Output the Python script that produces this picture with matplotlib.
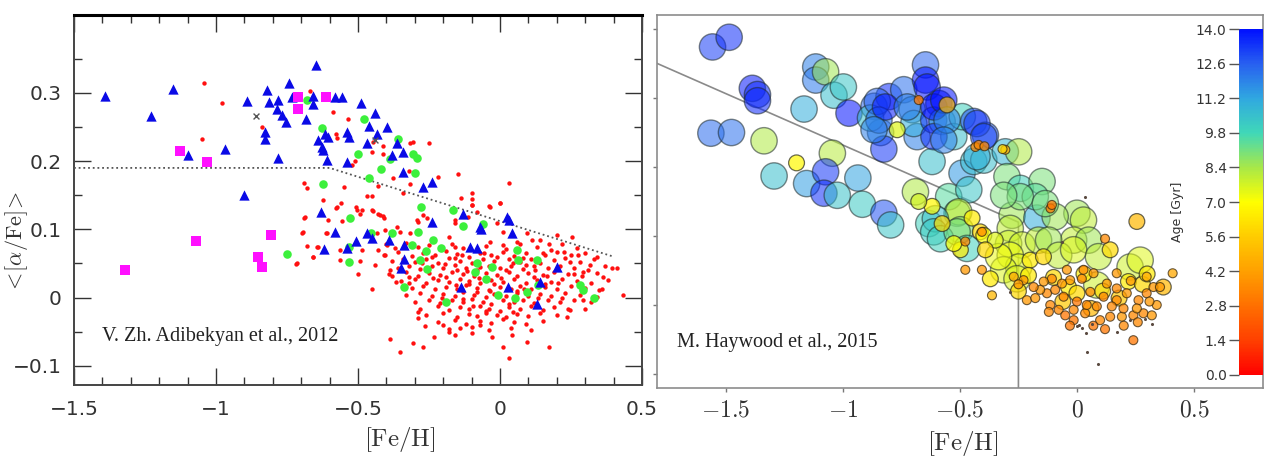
import numpy as np
import matplotlib.pyplot as plt
from matplotlib.colors import LinearSegmentedColormap
from matplotlib.ticker import FixedLocator, FixedFormatter

plt.rcParams['mathtext.fontset'] = 'cm'

# ---------------- left panel: Adibekyan et al. 2012 ----------------
# [Fe/H], <[alpha/Fe]>
red_pts = np.array([
    [-1.041, 0.314], [-0.980, 0.285], [-1.050, 0.232], [-0.839, 0.250], [-0.669, 0.303],
    [-0.690, 0.168], [-0.678, 0.160], [-0.622, 0.143], [-0.690, 0.116], [-0.698, 0.095],
    [-0.681, 0.075], [-0.657, 0.060], [-0.718, 0.049], [-0.640, 0.074], [-0.613, 0.094],
    [-0.589, 0.272], [-0.536, 0.261], [-0.577, 0.240], [-0.573, 0.234], [-0.448, 0.228],
    [-0.411, 0.222], [-0.452, 0.213], [-0.317, 0.226], [-0.305, 0.228], [-0.249, 0.227],
    [-0.411, 0.210], [-0.511, 0.200], [-0.522, 0.194], [-0.378, 0.175], [-0.320, 0.186],
    [-0.317, 0.166], [-0.219, 0.176], [-0.149, 0.181], [0.032, 0.168], [-0.549, 0.162],
    [-0.428, 0.164], [-0.469, 0.149], [-0.451, 0.149], [-0.340, 0.153], [-0.561, 0.139],
    [-0.579, 0.132], [-0.508, 0.133], [-0.487, 0.128], [-0.448, 0.127], [-0.428, 0.123],
    [-0.411, 0.119], [-0.138, 0.146], [-0.100, 0.153], [-0.100, 0.144], [-0.100, 0.135],
    [0.000, 0.139], [-0.037, 0.134], [-0.082, 0.126], [-0.111, 0.118], [-0.158, 0.113],
    [-0.288, 0.111], [-0.258, 0.116], [-0.557, 0.112], [-0.686, 0.118], [-0.692, 0.096],
    [-0.716, 0.050], [-0.657, 0.060], [-0.645, 0.074], [-0.610, 0.094], [-0.604, 0.114],
    [-0.575, 0.133], [-0.563, 0.055], [-0.563, 0.070], [-0.504, 0.128], [-0.493, 0.123],
    [-0.451, 0.128], [-0.422, 0.121], [-0.410, 0.116], [-0.493, 0.053], [-0.487, 0.070],
    [-0.499, 0.035], [-0.451, 0.013], [-0.440, 0.048], [-0.428, 0.070], [-0.432, 0.094],
    [-0.404, 0.099], [-0.399, 0.077], [-0.404, 0.062], [-0.387, 0.040], [-0.381, 0.031],
    [-0.364, 0.104], [-0.366, 0.023], [-0.352, 0.096], [-0.317, 0.094], [-0.322, 0.021],
    [-0.387, -0.060], [-0.352, -0.079], [-0.305, -0.067], [-0.287, -0.021], [-0.287, -0.030],
    [-0.264, -0.042], [-0.270, -0.072], [-0.234, -0.057], [-0.199, -0.040], [-0.181, -0.050],
    [-0.158, -0.055], [-0.141, -0.045], [-0.099, -0.052], [-0.070, -0.040], [-0.029, -0.057],
    [0.030, -0.089], [0.012, -0.072], [0.042, -0.055], [0.094, -0.065], [0.171, -0.072],
    [0.235, -0.028], [0.247, -0.018], [0.300, -0.016], [0.294, -0.004], [0.432, 0.004],
    [0.394, 0.043], [0.411, 0.043], [0.364, 0.030], [0.358, 0.013], [0.341, 0.060],
    [0.253, 0.089], [0.200, 0.092], [0.141, 0.084], [0.112, 0.084], [0.153, 0.065],
    [0.171, 0.079], [0.224, 0.067], [0.273, 0.062], [0.318, 0.048], [0.294, 0.038],
    [0.259, 0.035], [0.012, 0.096], [-0.011, 0.109], [-0.035, 0.133], [-0.099, 0.135],
    [0.000, 0.138], [0.094, 0.094], [0.059, 0.082], [0.012, 0.077], [-0.035, 0.082],
    [-0.158, 0.109], [-0.181, 0.089], [-0.158, 0.074], [-0.293, 0.114], [-0.270, 0.121],
    # dense clump
    [-0.40, 0.078], [-0.37, 0.072], [-0.33, 0.080], [-0.29, 0.074], [-0.25, 0.077],
    [-0.21, 0.071], [-0.17, 0.079], [-0.13, 0.073], [-0.05, 0.076], [0.02, 0.071],
    [0.07, 0.079], [0.13, 0.074], [0.18, 0.070], [0.22, 0.078], [0.27, 0.073],
    [-0.41, 0.063], [-0.36, 0.067], [-0.31, 0.061], [-0.27, 0.066], [-0.23, 0.062],
    [-0.19, 0.068], [-0.15, 0.064], [-0.11, 0.060], [-0.07, 0.066], [-0.03, 0.062],
    [0.01, 0.067], [0.05, 0.061], [0.09, 0.065], [0.16, 0.062], [0.20, 0.067],
    [0.25, 0.063], [0.30, 0.066],
    [-0.38, 0.053], [-0.34, 0.057], [-0.30, 0.052], [-0.26, 0.056], [-0.22, 0.051],
    [-0.18, 0.058], [-0.14, 0.054], [-0.10, 0.050], [-0.06, 0.056], [-0.02, 0.053],
    [0.03, 0.057], [0.07, 0.052], [0.11, 0.056], [0.14, 0.051], [0.19, 0.055],
    [0.23, 0.058], [0.28, 0.052], [0.33, 0.056],
    [-0.36, 0.044], [-0.32, 0.047], [-0.28, 0.042], [-0.24, 0.046], [-0.20, 0.043],
    [-0.16, 0.048], [-0.12, 0.044], [-0.08, 0.041], [-0.04, 0.046], [0.00, 0.043],
    [0.04, 0.047], [0.08, 0.042], [0.12, 0.046], [0.17, 0.043], [0.21, 0.047],
    [0.26, 0.044], [0.31, 0.041], [0.37, 0.046],
    [-0.39, 0.034], [-0.33, 0.037], [-0.29, 0.032], [-0.25, 0.036], [-0.21, 0.033],
    [-0.17, 0.038], [-0.13, 0.034], [-0.09, 0.031], [-0.05, 0.036], [-0.01, 0.033],
    [0.03, 0.037], [0.06, 0.032], [0.10, 0.036], [0.15, 0.033], [0.19, 0.038],
    [0.24, 0.034], [0.29, 0.031], [0.34, 0.036],
    [-0.35, 0.024], [-0.30, 0.027], [-0.26, 0.022], [-0.22, 0.026], [-0.18, 0.023],
    [-0.14, 0.028], [-0.11, 0.024], [-0.07, 0.021], [-0.03, 0.026], [0.01, 0.023],
    [0.05, 0.027], [0.09, 0.022], [0.13, 0.026], [0.18, 0.023], [0.22, 0.027],
    [0.27, 0.024], [0.32, 0.021], [0.38, 0.026],
    [-0.31, 0.014], [-0.27, 0.017], [-0.23, 0.012], [-0.19, 0.016], [-0.15, 0.013],
    [-0.12, 0.018], [-0.08, 0.014], [-0.04, 0.011], [0.00, 0.016], [0.04, 0.013],
    [0.07, 0.017], [0.11, 0.012], [0.16, 0.016], [0.20, 0.013], [0.25, 0.017],
    [0.30, 0.014], [0.35, 0.011],
    [-0.33, 0.004], [-0.28, 0.007], [-0.24, 0.002], [-0.20, 0.006], [-0.16, 0.003],
    [-0.13, 0.008], [-0.09, 0.004], [-0.05, 0.001], [-0.02, 0.006], [0.02, 0.003],
    [0.06, 0.007], [0.10, 0.002], [0.14, 0.006], [0.18, 0.003], [0.23, 0.007],
    [0.28, 0.004], [0.34, 0.001],
    [-0.30, -0.006], [-0.25, -0.003], [-0.21, -0.008], [-0.17, -0.004], [-0.13, -0.007],
    [-0.10, -0.002], [-0.06, -0.006], [-0.03, -0.009], [0.01, -0.004], [0.05, -0.007],
    [0.08, -0.003], [0.12, -0.008], [0.17, -0.004], [0.21, -0.007], [0.26, -0.003],
    [0.32, -0.006],
    [-0.28, -0.016], [-0.22, -0.013], [-0.18, -0.018], [-0.14, -0.014], [-0.11, -0.017],
    [-0.07, -0.012], [-0.04, -0.016], [0.00, -0.019], [0.03, -0.014], [0.07, -0.017],
    [0.11, -0.013], [0.15, -0.018], [0.19, -0.014], [0.24, -0.017],
    [-0.26, -0.026], [-0.20, -0.023], [-0.15, -0.028], [-0.11, -0.024], [-0.08, -0.027],
    [-0.05, -0.022], [-0.01, -0.026], [0.02, -0.029], [0.06, -0.024], [0.10, -0.027],
    [0.14, -0.023], [0.20, -0.026],
    [-0.22, -0.036], [-0.16, -0.033], [-0.12, -0.038], [-0.07, -0.034], [-0.03, -0.037],
    [0.01, -0.032], [0.05, -0.036], [0.09, -0.039], [0.15, -0.034],
    [-0.18, -0.046], [-0.10, -0.043], [-0.04, -0.048], [0.04, -0.044], [0.11, -0.047],
    [-0.19, 0.030], [-0.15, 0.040], [-0.11, 0.020], [-0.07, 0.045], [-0.02, 0.020],
    [0.02, 0.040], [0.06, 0.010], [0.09, 0.048], [-0.13, -0.002], [-0.08, 0.008],
    [0.03, -0.010], [0.12, 0.030], [-0.24, 0.060], [-0.01, 0.060], [0.16, 0.020],
    [-0.16, 0.058], [0.08, 0.058], [-0.32, 0.030], [0.22, 0.000], [-0.05, -0.020],
    [-0.235, 0.029], [-0.195, 0.049], [-0.155, 0.019], [-0.115, 0.039], [-0.075, 0.029],
    [-0.035, 0.009], [0.005, 0.029], [0.045, 0.051], [0.085, 0.012], [0.125, 0.040],
    [0.165, 0.031], [0.205, 0.021], [-0.275, 0.050], [-0.135, 0.062], [0.045, -0.021],
    [-0.095, -0.012], [0.135, -0.001], [-0.205, -0.001], [0.245, 0.052], [-0.055, 0.066],
])

green_pts = np.array([
    [-0.681, 0.290], [-0.626, 0.248], [-0.624, 0.167], [-0.751, 0.064], [-0.479, 0.261],
    [-0.360, 0.233], [-0.499, 0.210], [-0.305, 0.211], [-0.291, 0.205], [-0.389, 0.203],
    [-0.419, 0.188], [-0.299, 0.183], [-0.460, 0.175], [-0.279, 0.133], [-0.167, 0.128],
    [-0.528, 0.117], [-0.061, 0.108], [-0.129, 0.105], [-0.290, 0.096], [-0.454, 0.094],
    [-0.381, 0.094], [-0.237, 0.085], [-0.206, 0.072], [-0.311, 0.077], [-0.261, 0.068],
    [0.061, 0.070], [-0.531, 0.074], [-0.531, 0.052], [-0.282, 0.055], [-0.258, 0.042],
    [0.062, 0.055], [0.131, 0.055], [-0.082, 0.050], [-0.087, 0.038], [-0.029, 0.045],
    [-0.049, 0.028], [-0.338, 0.015], [0.135, 0.018], [0.282, 0.018], [0.293, 0.011],
    [0.094, 0.008], [-0.006, 0.004], [0.053, 0.000], [0.331, 0.000], [-0.190, -0.006],
])

blue_tri = np.array([
    [-1.391, 0.296], [-1.152, 0.306], [-1.229, 0.266], [-1.100, 0.209], [-0.968, 0.217],
    [-0.900, 0.150], [-0.892, 0.288], [-0.821, 0.304], [-0.812, 0.287], [-0.781, 0.289],
    [-0.784, 0.277], [-0.769, 0.267], [-0.754, 0.257], [-0.827, 0.243], [-0.827, 0.233],
    [-0.742, 0.314], [-0.731, 0.294], [-0.781, 0.204], [-0.683, 0.262], [-0.649, 0.341],
    [-0.660, 0.296], [-0.660, 0.284], [-0.640, 0.231], [-0.628, 0.221], [-0.616, 0.240],
    [-0.610, 0.201], [-0.630, 0.126], [-0.581, 0.294], [-0.557, 0.294], [-0.491, 0.285],
    [-0.439, 0.270], [-0.460, 0.251], [-0.399, 0.250], [-0.432, 0.240], [-0.469, 0.226],
    [-0.540, 0.243], [-0.531, 0.235], [-0.605, 0.236], [-0.622, 0.216], [-0.540, 0.198],
    [-0.362, 0.226], [-0.340, 0.213], [-0.381, 0.209], [-0.340, 0.184], [-0.270, 0.162],
    [-0.238, 0.170], [-0.132, 0.123], [0.023, 0.118], [0.033, 0.113], [-0.238, 0.111],
    [-0.070, 0.104], [-0.581, 0.096], [-0.068, 0.100], [0.041, 0.095], [-0.469, 0.094],
    [-0.452, 0.087], [-0.508, 0.083], [-0.390, 0.085], [-0.619, 0.071], [-0.538, 0.073],
    [-0.337, 0.077], [-0.106, 0.074], [-0.082, 0.072], [-0.338, 0.056], [-0.348, 0.043],
    [0.200, 0.045], [0.141, 0.023], [-0.138, 0.016], [0.029, 0.015], [0.129, -0.010],
])

mag_sq = np.array([
    [-1.127, 0.215], [-1.031, 0.199], [-0.710, 0.294], [-0.710, 0.277], [-0.613, 0.294],
    [-1.320, 0.041], [-1.070, 0.083], [-0.807, 0.092], [-0.851, 0.059], [-0.839, 0.045],
])

cross_pts = np.array([[-0.859, 0.266], [-0.440, 0.231]])

sep_feh = [-1.5, -0.6, 0.4]
sep_alpha = [0.19, 0.19, 0.06]

left_xticks = [-1.5, -1.0, -0.5, 0.0, 0.5]
left_xlabels = ['\u22121.5', '\u22121', '\u22120.5', '0', '0.5']
left_yticks = [-0.1, 0.0, 0.1, 0.2, 0.3]
left_ylabels = ['\u22120.1', '0', '0.1', '0.2', '0.3']

# ---------------- right panel: Haywood et al. 2015 ----------------
# [Fe/H], [alpha/Fe], age (Gyr)
big_pts = np.array([
    [-1.557, 0.374, 13.2], [-1.486, 0.388, 13.5], [-1.387, 0.314, 13.8], [-1.365, 0.305, 13.5],
    [-1.365, 0.296, 13.6], [-1.564, 0.249, 12.4], [-1.476, 0.250, 12.3], [-1.166, 0.284, 11.0],
    [-1.116, 0.345, 12.0], [-1.116, 0.326, 12.1], [-1.074, 0.338, 8.5], [-1.038, 0.304, 10.5],
    [-0.998, 0.316, 10.3], [-0.974, 0.278, 14.0], [-1.337, 0.238, 8.3], [-1.045, 0.220, 8.2],
    [-1.294, 0.187, 10.5], [-1.155, 0.176, 11.4], [-1.074, 0.193, 13.3], [-1.081, 0.162, 13.5],
    [-1.024, 0.159, 10.4], [-0.936, 0.184, 11.3], [-0.917, 0.146, 10.2], [-0.825, 0.133, 12.8],
    [-0.796, 0.116, 10.3], [-0.867, 0.288, 12.5], [-0.839, 0.250, 12.0], [-0.825, 0.226, 13.3],
    [-0.882, 0.271, 10.5], [-0.803, 0.302, 13.5], [-0.740, 0.312, 12.3], [-0.704, 0.283, 12.0],
    [-0.683, 0.244, 12.0], [-0.697, 0.263, 11.0], [-0.647, 0.348, 12.5], [-0.647, 0.326, 14.0],
    [-0.640, 0.316, 14.0], [-0.590, 0.292, 14.0], [-0.612, 0.268, 13.5], [-0.576, 0.266, 11.0],
    [-0.526, 0.244, 10.5], [-0.619, 0.208, 10.5], [-0.490, 0.273, 10.0], [-0.690, 0.164, 8.3],
    [-0.548, 0.157, 9.5], [-0.512, 0.133, 8.7], [-0.853, 0.295, 12.5], [-0.846, 0.268, 12.3],
    [-0.818, 0.287, 13.8], [-0.867, 0.254, 12.0], [-0.725, 0.287, 12.0], [-0.611, 0.287, 14.0],
    [-0.611, 0.244, 13.5], [-0.441, 0.266, 13.0], [-0.391, 0.246, 12.8], [-0.491, 0.191, 11.5],
    [-0.462, 0.167, 10.3], [-0.441, 0.208, 10.5], [-0.398, 0.210, 10.5], [-0.306, 0.222, 10.8],
    [-0.249, 0.222, 8.3], [-0.299, 0.186, 9.0], [-0.242, 0.169, 10.0], [-0.149, 0.179, 9.0],
    [-0.277, 0.130, 8.5], [-0.171, 0.126, 11.0], [-0.505, 0.135, 8.0], [-0.633, 0.118, 10.0],
    [-0.498, 0.109, 9.0], [-0.569, 0.297, 14.0], [-0.427, 0.263, 13.3], [-0.398, 0.244, 13.0],
    [-0.555, 0.268, 12.0], [-0.569, 0.239, 12.0], [-0.427, 0.215, 11.0], [-0.178, 0.157, 9.5],
    [-0.242, 0.157, 9.0], [0.000, 0.133, 8.5], [0.028, 0.123, 8.0], [-0.093, 0.128, 8.5],
    [-0.313, 0.159, 9.0], [-0.135, 0.147, 9.0], [-0.014, 0.094, 8.0], [0.050, 0.094, 8.5],
    [-0.605, 0.125, 10.5], [-0.612, 0.106, 10.2], [-0.583, 0.096, 10.0], [-0.512, 0.106, 9.0],
    [-0.470, 0.082, 10.0], [-0.285, 0.111, 8.0], [-0.292, 0.089, 7.8], [-0.235, 0.087, 7.8],
    [-0.164, 0.094, 8.0], [-0.121, 0.094, 8.5], [-0.285, 0.072, 7.3], [-0.249, 0.055, 7.6],
    [-0.313, 0.051, 7.6], [-0.078, 0.072, 8.0], [-0.014, 0.080, 7.6], [0.092, 0.070, 8.0],
    [0.227, 0.055, 7.8], [0.270, 0.065, 7.5], [0.085, 0.029, 7.8], [-0.256, 0.038, 7.6],
    [-0.335, 0.070, 7.3],
])

mid_pts = np.array([
    [-1.198, 0.206, 6.8], [-0.768, 0.254, 7.5], [-0.619, 0.143, 6.8], [-0.676, 0.150, 7.7],
    [-0.555, 0.290, 5.0], [-0.576, 0.118, 6.0], [-0.448, 0.126, 6.5], [-0.413, 0.106, 6.0],
    [-0.498, 0.080, 6.5], [-0.526, 0.089, 7.0], [-0.398, 0.101, 7.0], [-0.349, 0.094, 7.5],
    [-0.200, 0.065, 6.5], [-0.143, 0.070, 6.0], [0.142, 0.080, 6.0], [0.220, 0.034, 6.5],
    [-0.036, 0.026, 6.5], [0.000, 0.017, 6.0], [-0.370, 0.038, 6.5], [-0.207, 0.043, 6.5],
    [-0.391, 0.080, 6.0], [0.256, 0.121, 5.0], [0.369, 0.026, 5.0], [-0.100, 0.040, 6.0],
    [0.030, 0.045, 6.5], [0.110, 0.020, 6.0], [0.180, 0.010, 5.5], [0.280, 0.030, 6.0],
    [-0.060, 0.005, 5.5], [0.060, -0.005, 5.0], [0.300, 0.045, 6.5], [-0.250, 0.020, 6.0],
])

small_pts = np.array([
    [-0.676, 0.297, 3.0], [-0.306, 0.225, 4.5], [-0.434, 0.229, 3.5], [-0.420, 0.232, 3.5],
    [-0.395, 0.230, 3.5], [-0.113, 0.140, 3.0], [-0.318, 0.226, 6.0], [-0.477, 0.051, 4.0],
    [-0.363, 0.014, 5.0], [-0.214, 0.007, 4.0], [-0.178, 0.010, 4.0], [-0.114, 0.000, 3.5],
    [-0.078, -0.007, 3.5], [-0.014, -0.007, 3.5], [-0.014, -0.022, 3.0], [0.035, -0.012, 3.5],
    [0.099, -0.022, 3.5], [0.142, -0.017, 3.5], [0.192, -0.017, 4.0], [0.241, -0.015, 3.5],
    [0.284, -0.012, 3.5], [0.320, -0.015, 4.0], [0.341, 0.000, 4.0], [0.409, 0.046, 4.5],
    [0.241, -0.051, 3.0], [0.120, 0.096, 3.5], [-0.107, 0.145, 3.0], [-0.406, 0.106, 3.5],
    [-0.477, 0.092, 3.5], [-0.406, 0.051, 4.0], [-0.128, 0.017, 3.5], [-0.093, 0.022, 3.5],
    [-0.057, 0.012, 3.5], [-0.157, 0.022, 4.0], [-0.185, 0.026, 3.5], [-0.228, 0.036, 4.0],
    [-0.270, 0.041, 4.5], [-0.029, 0.036, 4.0], [0.021, 0.038, 3.5], [0.057, 0.019, 3.5],
    [0.114, 0.012, 3.5], [0.170, 0.007, 3.5], [0.213, 0.017, 4.0], [0.263, 0.007, 3.5],
    [0.298, 0.017, 3.5], [0.327, 0.026, 4.0], [0.128, 0.031, 4.0], [0.170, 0.024, 3.5],
    [0.000, 0.005, 3.0], [0.042, 0.000, 3.5], [0.085, -0.002, 3.5], [0.149, -0.002, 3.5],
    [0.199, -0.005, 3.5], [0.256, -0.005, 4.0], [-0.064, 0.031, 4.0], [-0.107, 0.038, 3.5],
    [-0.142, 0.034, 4.0], [-0.043, 0.051, 4.0], [0.028, 0.051, 3.5], [0.071, 0.046, 4.0],
    [0.170, 0.046, 4.0], [0.298, 0.041, 4.5], [0.355, 0.026, 4.0], [-0.050, -0.015, 3.0],
    [0.070, -0.030, 3.0], [0.120, -0.035, 3.0], [0.200, -0.030, 3.5], [0.260, -0.025, 3.5],
    [-0.120, -0.010, 3.5], [-0.250, 0.030, 4.0], [0.310, 0.005, 4.0], [0.230, 0.035, 4.0],
    [-0.030, -0.030, 3.0],
])

tiny_feh = [-0.285, 0.007, 0.021, 0.064, 0.170, 0.227, 0.320, 0.042, 0.092, 0.035,
            -0.064, 0.000, 0.040, 0.290]
tiny_alpha = [0.019, -0.029, -0.034, -0.027, -0.039, -0.022, -0.027, -0.068, -0.085, 0.157,
              0.092, -0.031, -0.040, -0.020]

cut_feh = [-1.793, -0.25, -0.25]
cut_alpha = [0.350, 0.12, -0.13]

right_xticks = [-1.5, -1.0, -0.5, 0.0, 0.5]
right_xlabels = [r'$-1.5$', r'$-1$', r'$-0.5$', r'$0$', r'$0.5$']
right_yticks = [-0.1, 0.0, 0.1, 0.2, 0.3, 0.4]
age_ticks = [0.0, 1.4, 2.8, 4.2, 5.6, 7.0, 8.4, 9.8, 11.2, 12.6, 14.0]

age_cmap = LinearSegmentedColormap.from_list('age', [
    (0.0, '#ff0000'), (0.1, '#ff4000'), (0.3, '#ffa000'), (0.4, '#ffcc00'),
    (0.5, '#ffff00'), (0.6, '#a8e848'), (0.7, '#40d8b8'), (0.8, '#30a8e0'),
    (0.9, '#2860f0'), (1.0, '#0010ff')])

W, H = 1278, 459
fig = plt.figure(figsize=(W / 100, H / 100), dpi=100)

# ---- left axes ----
ax = fig.add_axes([74 / W, 1 - 385 / H, 568 / W, 370 / H])
ax.scatter(red_pts[:, 0], red_pts[:, 1], s=10, color='#ff1010', linewidths=0, zorder=2)
ax.plot(sep_feh, sep_alpha, color='#555555', lw=1.3, ls=(0, (1, 1.6)), zorder=3)
ax.scatter(green_pts[:, 0], green_pts[:, 1], s=38, color='#3cf03c', linewidths=0, zorder=4)
ax.scatter(blue_tri[:, 0], blue_tri[:, 1], s=55, marker='^', color='#0a0ae6', linewidths=0, zorder=5)
ax.scatter(mag_sq[:, 0], mag_sq[:, 1], s=55, marker='s', color='#ff10ff', linewidths=0, zorder=6)
ax.scatter(cross_pts[:, 0], cross_pts[:, 1], s=18, marker='x', color='#555555', linewidths=1, zorder=6)

ax.set_xlim(-1.5, 0.5)
ax.set_ylim(-0.128, 0.414)
ax.xaxis.set_major_locator(FixedLocator(left_xticks))
ax.xaxis.set_major_formatter(FixedFormatter(left_xlabels))
ax.xaxis.set_minor_locator(FixedLocator(np.arange(-1.5, 0.51, 0.1)))
ax.yaxis.set_major_locator(FixedLocator(left_yticks))
ax.yaxis.set_major_formatter(FixedFormatter(left_ylabels))
ax.yaxis.set_minor_locator(FixedLocator([-0.05, 0.05, 0.15, 0.25, 0.35]))
ax.tick_params(which='both', direction='in', top=True, right=True, color='#333333')
ax.tick_params(which='major', length=12, width=1, labelsize=14.5, labelcolor='#333333')
ax.tick_params(which='minor', length=6, width=1)
ax.tick_params(axis='x', which='major', pad=11)
ax.tick_params(axis='y', which='major', pad=9)
for lab in ax.get_xticklabels() + ax.get_yticklabels():
    lab.set_family('DejaVu Sans')
ax.spines['top'].set_linewidth(2.2)
ax.spines['top'].set_color('black')
for side in ['left', 'right', 'bottom']:
    ax.spines[side].set_linewidth(1.4)
    ax.spines[side].set_color('#444444')
ax.text(0.049, 0.13, 'V. Zh. Adibekyan et al., 2012', transform=ax.transAxes,
        family='Liberation Serif', fontsize=14.5, color='#222222', va='center')
fig.text(400 / W, 1 - 440 / H, r'$[\mathrm{Fe}/\mathrm{H}]$', fontsize=18,
         color='#333333', ha='center', va='center')
fig.text(17 / W, 1 - 242 / H, r'$<\![\alpha/\mathrm{Fe}]\!>$', fontsize=16,
         color='#333333', ha='center', va='center', rotation=90)

# ---- right axes ----
ax2 = fig.add_axes([657.3 / W, 1 - 388 / H, 605.7 / W, 373 / H])
ax2.plot(cut_feh, cut_alpha, color='#8a8a8a', lw=1.2, zorder=1)
norm = plt.Normalize(0, 14)
ax2.scatter(big_pts[:, 0], big_pts[:, 1], c=big_pts[:, 2], cmap=age_cmap, norm=norm,
            s=360, alpha=0.55, edgecolors='#1e2a2a', linewidths=1.0, zorder=2)
ax2.scatter(mid_pts[:, 0], mid_pts[:, 1], c=mid_pts[:, 2], cmap=age_cmap, norm=norm,
            s=130, alpha=0.7, edgecolors='#2a2a1e', linewidths=0.9, zorder=3)
ax2.scatter(small_pts[:, 0], small_pts[:, 1], c=small_pts[:, 2], cmap=age_cmap, norm=norm,
            s=42, alpha=0.75, edgecolors='#3a2a10', linewidths=0.8, zorder=4)
ax2.scatter(tiny_feh, tiny_alpha, s=5, color='#5a4a40', linewidths=0, zorder=5)

ax2.set_xlim(-1.793, 0.795)
ax2.set_ylim(-0.1203, 0.4203)
ax2.xaxis.set_major_locator(FixedLocator(right_xticks))
ax2.xaxis.set_major_formatter(FixedFormatter(right_xlabels))
ax2.yaxis.set_major_locator(FixedLocator(right_yticks))
ax2.tick_params(axis='y', labelleft=False)
ax2.tick_params(direction='out', length=3, width=1, color='#777777', labelsize=17,
                labelcolor='#333333', pad=4)
for sp in ax2.spines.values():
    sp.set_color('#8c8c8c')
    sp.set_linewidth(1.2)
ax2.text(0.0325, 0.121, 'M. Haywood et al., 2015', transform=ax2.transAxes,
         family='Liberation Serif', fontsize=14.5, color='#222222', va='center')
fig.text(963 / W, 1 - 443 / H, r'$[\mathrm{Fe}/\mathrm{H}]$', fontsize=18,
         color='#333333', ha='center', va='center')

# ---- colour bar ----
cax = fig.add_axes([1239 / W, 1 - 375 / H, 24 / W, 346 / H])
sm = plt.cm.ScalarMappable(norm=norm, cmap=age_cmap)
cb = fig.colorbar(sm, cax=cax, ticks=age_ticks)
cb.outline.set_visible(False)
cax.yaxis.set_ticks_position('left')
cax.set_yticklabels(['%.1f' % t for t in age_ticks])
cax.tick_params(length=7, width=1, color='#555555', labelsize=10, labelcolor='#333333', pad=2)
fig.text(1178 / W, 1 - 212 / H, 'Age [Gyr]', fontsize=9, color='#333333',
         ha='center', va='center', rotation=90)

fig.savefig('out.png', dpi=100)
